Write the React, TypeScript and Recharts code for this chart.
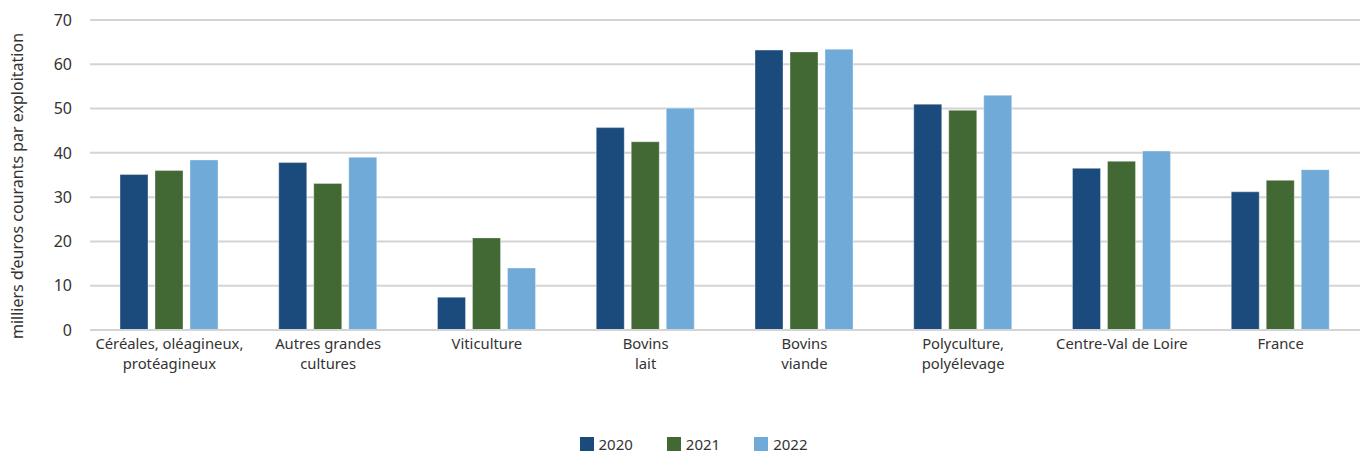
import { BarChart, Bar, XAxis, YAxis, CartesianGrid, Legend } from 'recharts';

const categories = [
  'Céréales, oléagineux,\nprotéagineux',
  'Autres grandes\ncultures',
  'Viticulture',
  'Bovins\nlait',
  'Bovins\nviande',
  'Polyculture,\npolyélevage',
  'Centre-Val de Loire',
  'France',
];
const values2020 = [35.1, 37.8, 7.4, 45.7, 63.2, 51.0, 36.5, 31.2];
const values2021 = [36.0, 33.1, 20.8, 42.5, 62.8, 49.6, 38.1, 33.8];
const values2022 = [38.4, 39.0, 14.0, 50.1, 63.4, 53.0, 40.4, 36.2];
const yTicks = [0, 10, 20, 30, 40, 50, 60, 70];

const series = [
  { key: 'y2020', name: '2020', color: '#1b4b7d' },
  { key: 'y2021', name: '2021', color: '#426834' },
  { key: 'y2022', name: '2022', color: '#6faad9' },
];

const data = categories.map((c, i) => ({
  name: c,
  y2020: values2020[i],
  y2021: values2021[i],
  y2022: values2022[i],
}));

const FONT = '"Noto Sans", sans-serif';
const TEXT = '#333333';

function CategoryTick({ x, y, payload }: any) {
  const lines = String(payload.value).split('\n');
  return (
    <g>
      {lines.map((l, i) => (
        <text
          key={i}
          x={x}
          y={y + 11 + i * 20.2}
          textAnchor="middle"
          fill={TEXT}
          fontSize={14.8}
          fontFamily={FONT}
        >
          {l}
        </text>
      ))}
    </g>
  );
}

function LegendBox() {
  return (
    <div
      style={{
        display: 'flex',
        justifyContent: 'center',
        gap: 34,
        paddingLeft: 27,
        fontFamily: FONT,
        fontSize: 15,
        color: TEXT,
      }}
    >
      {series.map((s) => (
        <div key={s.key} style={{ display: 'flex', alignItems: 'center', gap: 5 }}>
          <span style={{ width: 14, height: 14, background: s.color, display: 'inline-block' }} />
          <span>{s.name}</span>
        </div>
      ))}
    </div>
  );
}

export default function App() {
  return (
    <div style={{ position: 'absolute', left: 0, top: 0, width: 1361, height: 454, background: '#fff' }}>
      <BarChart
        width={1361}
        height={454}
        data={data}
        margin={{ top: 20, right: 1, left: 0, bottom: 0 }}
        barSize={28}
        barGap={7}
      >
        <CartesianGrid vertical={false} stroke="#d4d4d4" strokeWidth={2} />
        <XAxis
          dataKey="name"
          interval={0}
          tick={<CategoryTick />}
          tickLine={false}
          axisLine={{ stroke: '#d4d4d4', strokeWidth: 2 }}
          height={104}
        />
        <YAxis
          width={90}
          domain={[0, 70]}
          ticks={yTicks}
          tickLine={false}
          axisLine={false}
          tickMargin={12}
          tick={{ fill: TEXT, fontSize: 16, fontFamily: FONT }}
          label={{
            content: () => (
              <text
                x={23}
                y={186}
                transform="rotate(-90 23 186)"
                textAnchor="middle"
                fill={TEXT}
                fontSize={16}
                fontFamily={FONT}
              >
                milliers d’euros courants par exploitation
              </text>
            ),
          }}
        />
        <Legend verticalAlign="bottom" content={<LegendBox />} wrapperStyle={{ bottom: 0 }} />
        {series.map((s) => (
          <Bar key={s.key} dataKey={s.key} name={s.name} fill={s.color} stroke="#ffffff" strokeOpacity={0.35} isAnimationActive={false} />
        ))}
      </BarChart>
    </div>
  );
}
